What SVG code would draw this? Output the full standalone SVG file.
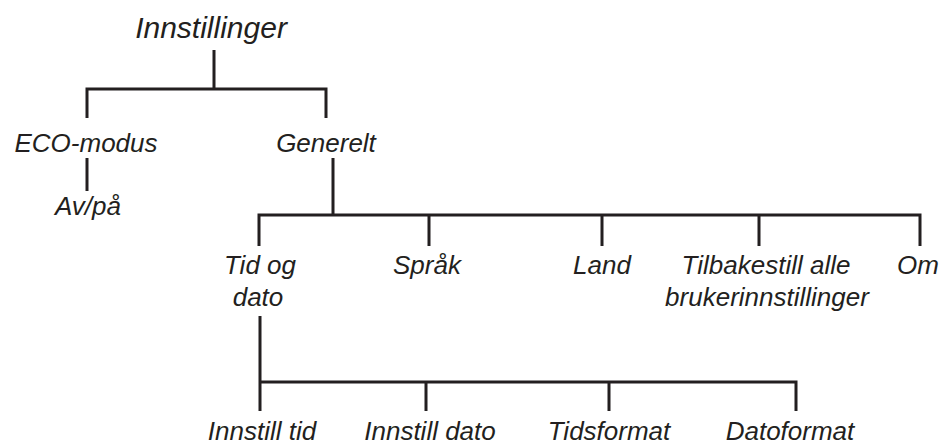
<svg xmlns="http://www.w3.org/2000/svg" width="944" height="448" viewBox="0 0 944 448">
<style>
.t{font-family:"Liberation Sans",Arial,sans-serif;font-style:italic;font-size:26px;fill:#231f20;text-anchor:middle}
.r{font-size:30px}
.c{stroke:#231f20;stroke-width:3;fill:none;stroke-linecap:butt}
</style>
<rect width="944" height="448" fill="#ffffff"/>
<g id="connectors" class="c">
<path d="M214,50V89M87,89H327.5M87,87.5V118M326,87.5V118"/>
<path d="M87,158V191"/>
<path d="M333,158V215M259,213.5V246M259,215H921.5M429,215V246M602,215V246M759,215V246M920,213.5V246"/>
<path d="M260,316V411M258.5,382H797.5M426,382V411M609,382V411M796,380.5V411"/>
</g>
<g id="n-root"><text class="t r" x="211" y="38">Innstillinger</text></g>
<g id="n-eco"><text class="t" x="86" y="152">ECO-modus</text></g>
<g id="n-avpa"><text class="t" x="88" y="215">Av/på</text></g>
<g id="n-generelt"><text class="t" x="326" y="152">Generelt</text></g>
<g id="n-tid"><text class="t" x="260" y="274">Tid og</text><text class="t" x="258" y="306">dato</text></g>
<g id="n-sprak"><text class="t" x="427" y="274">Språk</text></g>
<g id="n-land"><text class="t" x="602" y="274">Land</text></g>
<g id="n-tilbake"><text class="t" x="766" y="274">Tilbakestill alle</text><text class="t" x="767" y="306">brukerinnstillinger</text></g>
<g id="n-om"><text class="t" x="918" y="274">Om</text></g>
<g id="n-innstilltid"><text class="t" x="262" y="440">Innstill tid</text></g>
<g id="n-innstilldato"><text class="t" x="430" y="440">Innstill dato</text></g>
<g id="n-tidsformat"><text class="t" x="609" y="440">Tidsformat</text></g>
<g id="n-datoformat"><text class="t" x="790" y="440">Datoformat</text></g>
</svg>
